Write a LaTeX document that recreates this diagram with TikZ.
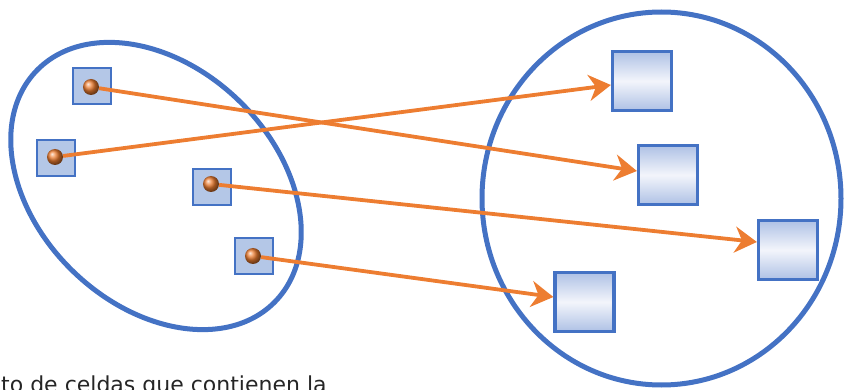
\documentclass[tikz,border=0pt]{standalone}
\usepackage{fontspec}
\usetikzlibrary{arrows.meta}
\definecolor{cblue}{HTML}{4472C4}
\definecolor{cfill}{HTML}{B4C7E7}
\definecolor{cgrad}{HTML}{AEC1E5}
\definecolor{cmid}{HTML}{F3F5FB}
\definecolor{corange}{HTML}{ED7D31}
\newfontfamily\labelfont{DejaVu Sans}
\begin{document}
\begin{tikzpicture}[x=1pt,y=-1pt,
  cell/.style={draw=cblue, line width=2pt, fill=cfill, minimum width=38pt, minimum height=36pt, inner sep=0pt},
  bigcell/.style={draw=cblue, line width=3.2pt, top color=cgrad, bottom color=cgrad, middle color=cmid, minimum size=59pt, inner sep=0pt},
  ballnode/.style={circle, inner sep=0pt, minimum size=16pt, shading=ball, ball color=corange},
  link/.style={draw=corange, line width=3.8pt, -{Stealth[length=22pt, width=26pt, inset=7pt]}},
  setline/.style={draw=cblue, line width=5pt}]
\useasboundingbox (0,0) rectangle (844,390);
\clip (0,0) rectangle (844,390);
% sets
\draw[setline] (156,186) ellipse [x radius=166pt, y radius=119pt, rotate=-44];
\draw[setline] (661.5,198.5) ellipse [x radius=179.5pt, y radius=186.5pt];
% source cells
\node[cell] (ca) at (92,86) {};
\node[cell] (cb) at (56,158) {};
\node[cell] (cc) at (211.5,187) {};
\node[cell] (cd) at (253.5,256.5) {};
% target cells
\node[bigcell] (r1) at (642,81) {};
\node[bigcell] (r2) at (668,175) {};
\node[bigcell] (r3) at (788,250) {};
\node[bigcell] (r4) at (584.5,302) {};
% balls
\node[ballnode] (ba) at (91,87) {};
\node[ballnode] (bb) at (55,157) {};
\node[ballnode] (bc) at (211,184) {};
\node[ballnode] (bd) at (253,256) {};
% links
\draw[link] (ba) -- ([yshift=4pt]r2.west);
\draw[link] (bb) -- ([yshift=-4pt]r1.west);
\draw[link] (bc) -- ([yshift=8pt]r3.west);
\draw[link] (bd) -- ([yshift=5pt]r4.west);
% caption
\node[anchor=base west, inner sep=0pt, font=\labelfont\fontsize{22pt}{26pt}\selectfont, text=black!85] (cap) at (1,392) {to de celdas que contienen la};
\end{tikzpicture}
\end{document}
